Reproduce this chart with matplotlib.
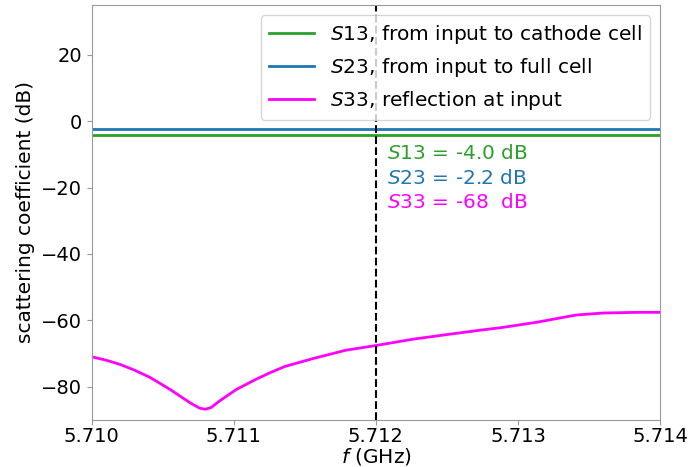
import matplotlib
matplotlib.use("Agg")
import matplotlib.pyplot as plt
from matplotlib.ticker import FormatStrFormatter

# data
freq = [5.71000, 5.71010, 5.71020, 5.71030, 5.71041, 5.71055, 5.71069, 5.71076,
        5.71080, 5.71084, 5.71090, 5.71102, 5.71116, 5.71125, 5.71136, 5.71156,
        5.71179, 5.71200, 5.71226, 5.71250, 5.71273, 5.71290, 5.71313, 5.71327,
        5.71341, 5.71360, 5.71384, 5.71400]
s33 = [-71.0, -72.0, -73.3, -75.0, -77.2, -80.8, -84.8, -86.5,
       -86.8, -86.3, -84.3, -80.8, -77.7, -75.9, -73.9, -71.5,
       -69.0, -67.6, -65.7, -64.3, -63.0, -62.1, -60.6, -59.5,
       -58.4, -57.8, -57.6, -57.6]
s13 = -4.0
s23 = -2.2
f_mark = 5.712
xticks = [5.710, 5.711, 5.712, 5.713, 5.714]
yticks = [-80, -60, -40, -20, 0, 20]

plt.rcParams['font.size'] = 14.5

fig = plt.figure(figsize=(7, 4.67), dpi=100)
ax = fig.add_axes([0.131, 0.101, 0.812, 0.888])

ax.plot([freq[0], freq[-1]], [s13, s13], color='#2ca02c', lw=2,
        label='$S$13, from input to cathode cell')
ax.plot([freq[0], freq[-1]], [s23, s23], color='#1f77b4', lw=2,
        label='$S$23, from input to full cell')
ax.plot(freq, s33, color='#ff00ff', lw=2, label='$S$33, reflection at input')
ax.axvline(f_mark, color='black', ls='--', lw=1.5)

ax.text(5.71208, -9.8, '$S$13 = %.1f dB' % s13, color='#2ca02c', va='center')
ax.text(5.71208, -17.2, '$S$23 = %.1f dB' % s23, color='#1f77b4', va='center')
ax.text(5.71208, -24.6, '$S$33 = -68  dB', color='#ff00ff', va='center')

ax.set_xlim(5.710, 5.714)
ax.set_ylim(-90, 35)
ax.set_xticks(xticks)
ax.xaxis.set_major_formatter(FormatStrFormatter('%.3f'))
ax.set_yticks(yticks)
ax.set_xlabel('$f$ (GHz)', labelpad=0)
ax.set_ylabel('scattering coefficient (dB)')
for sp in ax.spines.values():
    sp.set_color('#999999')
ax.tick_params(color='#999999', labelsize=14)
ax.tick_params(axis='x', pad=2)

ax.legend(loc='upper right', handlelength=2.2)

fig.savefig('out.png', dpi=100)
